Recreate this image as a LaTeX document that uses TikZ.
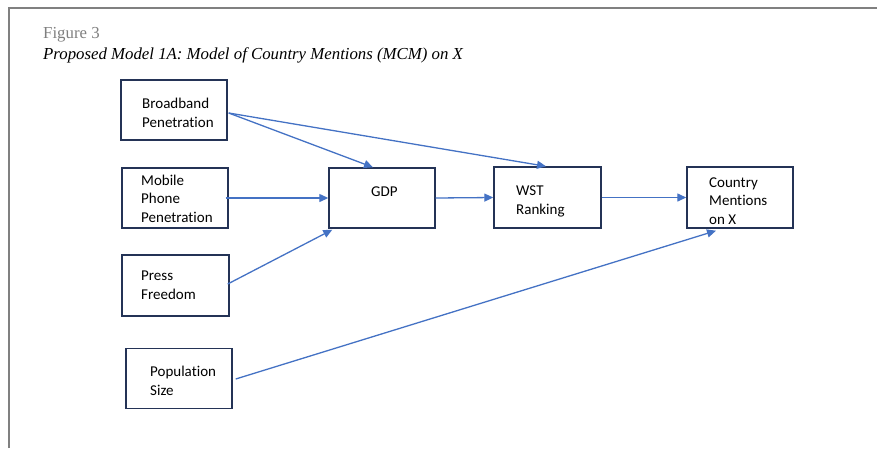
\documentclass[tikz,border=0pt]{standalone}
\usepackage{fontspec}
\setmainfont{Liberation Serif}
\newfontfamily\boxfont[RawFeature=-liga]{Carlito}
\usetikzlibrary{arrows.meta,calc}
\definecolor{framegray}{HTML}{808080}
\definecolor{boxnavy}{HTML}{243356}
\definecolor{arrowblue}{HTML}{4472C4}
\definecolor{captiongray}{HTML}{7F7F7F}
\tikzset{
  varbox/.style={draw=boxnavy, line width=1.4pt, rectangle, inner sep=0pt,
    minimum width=106pt, minimum height=60pt},
  % anchored at the baseline of the last line
  boxtext/.style={anchor=base west, inner sep=0pt, align=left,
    font=\boxfont\fontsize{15}{18.5}\selectfont},
  link/.style={draw=arrowblue, line width=1.3pt,
    -{Triangle[length=9pt,width=8pt]}},
}
\begin{document}
\begin{tikzpicture}[x=1pt,y=-1pt]
  \useasboundingbox (0,0) rectangle (877,448);
  % page frame
  \draw[framegray, line width=1.6pt] (9,448) -- (9,8) -- (877,8);

  % caption
  \node[anchor=base west, inner sep=0pt, text=captiongray,
        font=\fontsize{16.8}{20}\selectfont] (fig) at (43,38) {Figure 3};
  \node[anchor=base west, inner sep=0pt,
        font=\itshape\fontsize{16.8}{20}\selectfont] (cap) at (43,59)
        {Proposed Model 1A: Model of Country Mentions (MCM) on X};

  % boxes
  \node[varbox] (bb)  at (174,110)   {};
  \node[varbox] (mob) at (175,198)   {};
  \node[varbox, minimum width=107pt, minimum height=61pt] (pf) at (175.5,285.5) {};
  \node[varbox] (pop) at (179,378.5) {};
  \node[varbox] (gdp) at (382,198)   {};
  \node[varbox, minimum width=107pt, minimum height=61pt] (wst) at (547.5,197.5) {};
  \node[varbox, minimum height=61pt] (cm) at (740,197.5) {};

  % box labels
  \node[boxtext] (bbt)  at (142,127) {Broadband\\Penetration};
  \node[boxtext] (mobt) at (141,222) {Mobile\\Phone\\Penetration};
  \node[boxtext] (pft)  at (141,299) {Press\\Freedom};
  \node[boxtext] (popt) at (150,395) {Population\\Size};
  \node[boxtext] (gdpt) at (371,196) {GDP};
  \node[boxtext] (wstt) at (516,214) {WST\\Ranking};
  \node[boxtext] (cmt)  at (709,224) {Country\\Mentions\\on X};

  % connectors
  \draw[link] ($(bb.east)+(1,3)$) -- ($(gdp.north)+(-9,0)$);
  \draw[link] ($(bb.east)+(1,3)$) -- ($(wst.north)+(-1.5,0)$);
  \draw[link] ($(mob.east)+(-3,0)$) -- (gdp.west);
  \draw[link] ($(pf.east)+(-2,-1.5)$) -- ($(gdp.south west)+(4,1)$);
  \draw[link] (gdp.east) -- (wst.west);
  \draw[link] (wst.east) -- (cm.west);
  \draw[link] ($(pop.east)+(3,0.5)$) -- ($(cm.south)+(-24,2)$);
\end{tikzpicture}
\end{document}
